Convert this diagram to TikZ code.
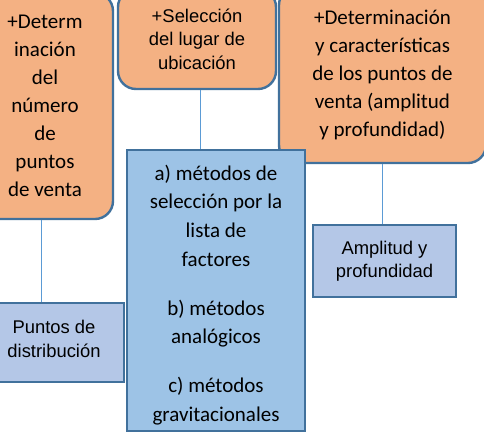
\documentclass[tikz,border=0pt]{standalone}
\usepackage{fontspec}
\newfontfamily\calfont{Carlito}
\newfontfamily\arifont{Liberation Sans}
\definecolor{orfill}{HTML}{F4B183}
\definecolor{bdr}{HTML}{41719C}
\definecolor{bluefill}{HTML}{9DC3E6}
\definecolor{lightfill}{HTML}{B4C7E7}
\definecolor{conn}{HTML}{5B9BD5}
\tikzset{
  orbox/.style={draw=bdr, line width=2.4pt, fill=orfill, rounded corners=18pt, inner sep=0pt, align=center, text=black},
  bluebox/.style={draw=bdr, line width=2.4pt, fill=bluefill, inner sep=0pt},
  lightbox/.style={draw=bdr, line width=2.4pt, fill=lightfill, inner sep=0pt},
  txt/.style={inner sep=0pt, align=center, text=black},
  cal/.style={font=\calfont\fontsize{21}{28}\selectfont},
  calb/.style={font=\calfont\fontsize{21}{28.6}\selectfont},
  ari/.style={font=\arifont\fontsize{18.4}{23.5}\selectfont},
  link/.style={draw=conn, line width=1pt}
}
\begin{document}
\begin{tikzpicture}[x=1pt,y=-1pt]
\useasboundingbox (0,0) rectangle (484,432);
\clip (0,0) rectangle (484,432);
\fill[white] (0,0) rectangle (484,432);
% nodes
\node[orbox, cal, minimum width=136pt, minimum height=226pt] (lo) at (45,106)
  {+Determ\\inación\\del\\número\\de\\puntos\\de venta};
\node[orbox, ari, minimum width=158pt, minimum height=100pt] (ms) at (197,39)
  {+Selección\\del lugar de\\ubicación};
\node[orbox, cal, minimum width=207pt, minimum height=176pt] (ro) at (382.5,75)
  {+Determinación\\y características\\de los puntos de\\venta (amplitud\\y profundidad)};
\node[lightbox, minimum width=140pt, minimum height=79pt] (pd) at (54,342.5) {};
\node[txt, ari] (pdt) at ([yshift=3.5pt]pd.center) {Puntos de\\distribución};
\node[lightbox, minimum width=143pt, minimum height=72pt] (am) at (384.5,261) {};
\node[txt, ari] (amt) at (am.center) {Amplitud y\\profundidad};
% connectors (behind boxes)
\draw[link] ([xshift=-4pt]lo.south) -- ([xshift=-4pt]lo.south |- pd.north);
\draw[link] (ro.south) -- (ro.south |- am.north);
% middle blue box on top
\node[bluebox, minimum width=178pt, minimum height=281pt] (mb) at (216,290.5) {};
\draw[link] ([xshift=3pt]ms.south) -- ([xshift=3pt]ms.south |- mb.north);
\node[txt, calb] (mbt) at ([yshift=-4.5pt]mb.center)
  {a) métodos de\\selección por la\\lista de\\factores\\[20.5pt]b) métodos\\analógicos\\[20.5pt]c) métodos\\gravitacionales};
\end{tikzpicture}
\end{document}
